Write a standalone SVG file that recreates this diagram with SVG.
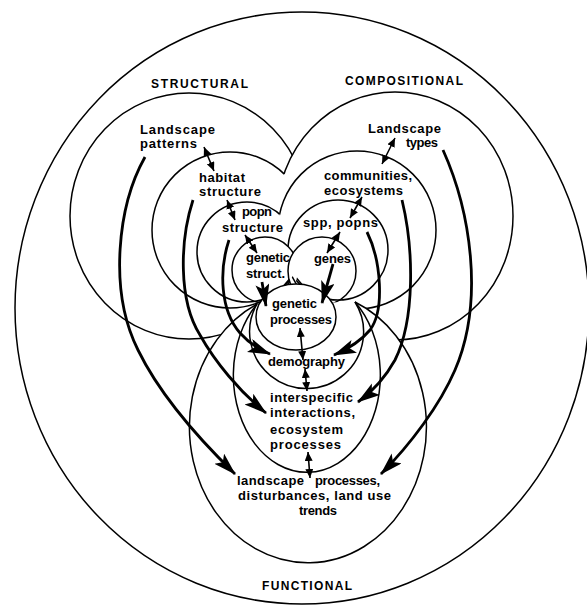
<svg xmlns="http://www.w3.org/2000/svg" width="587" height="605" viewBox="0 0 587 605">
<style>
.c{fill:none;stroke:#000;stroke-width:1.5}
.t{font-family:"Liberation Sans",Arial,sans-serif;font-weight:bold;font-size:13px;fill:#000}
.h{font-family:"Liberation Sans",Arial,sans-serif;font-weight:bold;font-size:12px;fill:#000}
.a{fill:none;stroke:#000;stroke-width:2.8;marker-end:url(#big)}
.d{fill:none;stroke:#000;stroke-width:1.6;marker-start:url(#sm);marker-end:url(#sm)}
.k{fill:#000}
.w{fill:#fff}
</style>
<defs>
<marker id="big" markerUnits="userSpaceOnUse" markerWidth="26" markerHeight="16" refX="22" refY="7" orient="auto">
<path d="M0,0 L23,7 L0,14 L5,7 z" fill="#000"/>
</marker>
<marker id="sm" markerUnits="userSpaceOnUse" markerWidth="12" markerHeight="10" refX="9" refY="4" orient="auto-start-reverse">
<path d="M0,0 L9,4 L0,8 z" fill="#000"/>
</marker>
<path id="faR" d="M257 304 A118.5 136 0 1 0 355 302 Z"/>
<ellipse id="fdR" cx="296" cy="317" rx="40" ry="33"/>
<ellipse id="c1R" cx="395" cy="216" rx="118" ry="124"/>
<circle id="c2R" cx="357" cy="230" r="79"/>
<circle id="c3R" cx="338" cy="250" r="50"/>
<circle id="c4R" cx="322" cy="271" r="34"/>
<circle id="s2R" cx="230" cy="230" r="78"/>
<circle id="s3R" cx="247" cy="252" r="50"/>
<circle id="s4R" cx="265" cy="270" r="33"/>
<mask id="mS" maskUnits="userSpaceOnUse" x="0" y="0" width="587" height="605">
<rect class="w" x="0" y="0" width="587" height="605"/>
<use href="#c1R" class="k"/><use href="#c2R" class="k"/><use href="#c3R" class="k"/><use href="#c4R" class="k"/>
<use href="#faR" class="k"/><use href="#fdR" class="k"/>
</mask>
<mask id="mS3" maskUnits="userSpaceOnUse" x="0" y="0" width="587" height="605">
<rect class="w" x="0" y="0" width="587" height="605"/>
<use href="#c2R" class="k"/><use href="#c3R" class="k"/><use href="#c4R" class="k"/>
<use href="#faR" class="k"/><use href="#fdR" class="k"/>
</mask>
<mask id="mS4" maskUnits="userSpaceOnUse" x="0" y="0" width="587" height="605">
<rect class="w" x="0" y="0" width="587" height="605"/>
<use href="#c4R" class="k"/>
<use href="#faR" class="k"/><use href="#fdR" class="k"/>
</mask>
<mask id="mC1" maskUnits="userSpaceOnUse" x="0" y="0" width="587" height="605">
<rect class="w" x="0" y="0" width="587" height="605"/>
<use href="#s2R" class="k"/>
<use href="#faR" class="k"/><use href="#fdR" class="k"/>
</mask>
<mask id="mC2" maskUnits="userSpaceOnUse" x="0" y="0" width="587" height="605">
<rect class="w" x="0" y="0" width="587" height="605"/>
<use href="#s3R" class="k"/><use href="#s4R" class="k"/>
<use href="#faR" class="k"/><use href="#fdR" class="k"/>
</mask>
<mask id="mC3" maskUnits="userSpaceOnUse" x="0" y="0" width="587" height="605">
<rect class="w" x="0" y="0" width="587" height="605"/>
<use href="#s4R" class="k"/>
<use href="#faR" class="k"/><use href="#fdR" class="k"/>
</mask>
<mask id="mC4" maskUnits="userSpaceOnUse" x="0" y="0" width="587" height="605">
<rect class="w" x="0" y="0" width="587" height="605"/>
<use href="#faR" class="k"/><use href="#fdR" class="k"/>
</mask>
</defs>
<rect width="587" height="605" fill="#fff"/>
<g id="outer">
<ellipse class="c" cx="302" cy="308" rx="287" ry="296"/>
<text class="h" x="151" y="88" textLength="97" lengthAdjust="spacing">STRUCTURAL</text>
<text class="h" x="345" y="85" textLength="118" lengthAdjust="spacing">COMPOSITIONAL</text>
<text class="h" x="262" y="590" textLength="90" lengthAdjust="spacing">FUNCTIONAL</text>
</g>
<g id="structural">
<g id="landscape-patterns" mask="url(#mS)"><ellipse class="c" cx="189" cy="216" rx="119" ry="123"/></g>
<g id="habitat-structure" mask="url(#mS)"><circle class="c" cx="230" cy="230" r="78"/></g>
<g id="popn-structure" mask="url(#mS3)"><circle class="c" cx="247" cy="252" r="50"/></g>
<g id="genetic-struct" mask="url(#mS4)"><circle class="c" cx="265" cy="270" r="33"/></g>
</g>
<g id="compositional">
<g id="landscape-types" mask="url(#mC1)"><ellipse class="c" cx="395" cy="216" rx="118" ry="124"/></g>
<g id="communities" mask="url(#mC2)"><circle class="c" cx="357" cy="230" r="79"/></g>
<g id="spp-popns" mask="url(#mC3)"><circle class="c" cx="338" cy="250" r="50"/></g>
<g id="genes" mask="url(#mC4)"><circle class="c" cx="322" cy="271" r="34"/></g>
</g>
<g id="functional">
<g id="landscape-processes"><path class="c" d="M257 304 A118.5 136 0 1 0 355 302"/></g>
<g id="interspecific"><path class="c" d="M257 304 A73.5 97 0 1 0 355 302"/></g>
<g id="demography"><path class="c" d="M257 304 A57 56.6 0 1 0 355 302"/></g>
<g id="genetic-processes"><ellipse class="c" cx="296" cy="317" rx="40" ry="33"/></g>
</g>
<g id="labels">
<text class="t" x="140" y="134" textLength="75" lengthAdjust="spacing">Landscape</text>
<text class="t" x="140" y="148" textLength="57" lengthAdjust="spacing">patterns</text>
<text class="t" x="199" y="182" textLength="46" lengthAdjust="spacing">habitat</text>
<text class="t" x="199" y="196" textLength="62" lengthAdjust="spacing">structure</text>
<text class="t" x="242" y="216" textLength="30" lengthAdjust="spacing">popn</text>
<text class="t" x="222" y="232" textLength="61" lengthAdjust="spacing">structure</text>
<text class="t" x="246" y="262" textLength="44" lengthAdjust="spacing">genetic</text>
<text class="t" x="246" y="278" textLength="39" lengthAdjust="spacing">struct.</text>
<text class="t" x="368" y="133" textLength="73" lengthAdjust="spacing">Landscape</text>
<text class="t" x="406" y="147" textLength="32" lengthAdjust="spacing">types</text>
<text class="t" x="324" y="180" textLength="88" lengthAdjust="spacing">communities,</text>
<text class="t" x="324" y="195" textLength="79" lengthAdjust="spacing">ecosystems</text>
<text class="t" x="303" y="227" textLength="75" lengthAdjust="spacing">spp, popns</text>
<text class="t" x="314" y="263" textLength="37" lengthAdjust="spacing">genes</text>
<text class="t" x="272" y="308" textLength="45" lengthAdjust="spacing">genetic</text>
<text class="t" x="270" y="324" textLength="62" lengthAdjust="spacing">processes</text>
<text class="t" x="268" y="366" textLength="77" lengthAdjust="spacing">demography</text>
<text class="t" x="270" y="402" textLength="83" lengthAdjust="spacing">interspecific</text>
<text class="t" x="270" y="417" textLength="85" lengthAdjust="spacing">interactions,</text>
<text class="t" x="270" y="434" textLength="73" lengthAdjust="spacing">ecosystem</text>
<text class="t" x="270" y="449" textLength="71" lengthAdjust="spacing">processes</text>
<text class="t" x="237" y="485" textLength="67" lengthAdjust="spacing">landscape</text>
<text class="t" x="315" y="485" textLength="65" lengthAdjust="spacing">processes,</text>
<text class="t" x="238" y="500" textLength="153" lengthAdjust="spacing">disturbances, land use</text>
<text class="t" x="299" y="515" textLength="38" lengthAdjust="spacing">trends</text>
</g>
<g id="connectors">
<path class="a" d="M145 157 C118 205 108 290 138 350 C160 395 200 440 235 474"/>
<path class="a" d="M193 200 C180 240 178 300 200 335 C215 362 240 392 266 413"/>
<path class="a" d="M229 240 C219 270 220 310 240 333 C248 342 258 349 270 354"/>
<path class="a" d="M367 232 C381 260 385 310 370 330 C360 342 348 349 334 355"/>
<path class="a" d="M402 200 C414 250 415 320 395 360 C385 378 372 392 358 402"/>
<path class="a" d="M443 150 C470 210 485 300 455 370 C440 405 410 445 381 474"/>
<path class="a" d="M262 282 L266 306"/>
<path class="a" d="M333 264 L322 303"/>
<path class="d" d="M204 147 L214 171"/>
<path class="d" d="M227 200 L235 220"/>
<path class="d" d="M245 235 L257 253"/>
<path class="d" d="M395 138 L382 164"/>
<path class="d" d="M362 197 L350 218"/>
<path class="d" d="M340 232 L327 253"/>
<path class="d" d="M300 328 L303 360"/>
<path class="d" d="M305 369 L307 391"/>
<path class="d" d="M308 452 L310 478"/>
</g>
</svg>
